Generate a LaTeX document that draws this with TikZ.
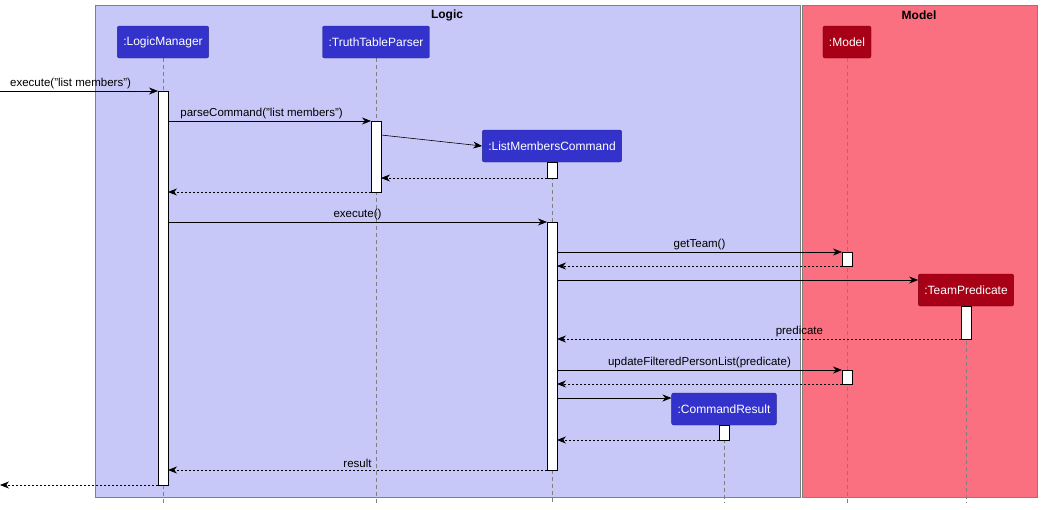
\documentclass[tikz,border=0pt]{standalone}
\usepackage{fontspec}
\setmainfont{Liberation Sans}
\usetikzlibrary{arrows.meta}
\definecolor{logicbg}{HTML}{C8C8F8}
\definecolor{modelbg}{HTML}{FA7080}
\definecolor{logicfg}{HTML}{3333CC}
\definecolor{modelfg}{HTML}{A80016}
\begin{document}
\begin{tikzpicture}[x=1pt,y=-1pt,
    font=\fontsize{12}{14}\selectfont,
    part/.style={draw=#1!70!black, fill=#1, text=white, minimum height=32pt, inner xsep=6pt, rounded corners=2pt},
    life/.style={draw=gray, dashed, dash pattern=on 4pt off 3pt},
    act/.style={draw=black, fill=white},
    msg/.style={-{Stealth[length=9pt,width=7pt]}, line width=0.6pt},
    ret/.style={msg, dash pattern=on 2pt off 2pt},
    lbl/.style={above, inner sep=2pt, font=\fontsize{11.5}{13}\selectfont}]
  \useasboundingbox (0,0) rectangle (1042,509);
  % boxes
  \draw[gray, fill=logicbg] (95,5) rectangle (800,497);
  \draw[gray, fill=modelbg] (802,5) rectangle (1037,497);
  \node[font=\bfseries\fontsize{12}{14}\selectfont] (logicT) at (447,15) {Logic};
  \node[font=\bfseries\fontsize{12}{14}\selectfont] (modelT) at (919,15) {Model};
  % lifelines
  \draw[life] (163,58) -- (163,503);
  \draw[life] (376,58) -- (376,503);
  \draw[life] (552,162) -- (552,503);
  \draw[life] (847,58) -- (847,503);
  \draw[life] (966,306) -- (966,503);
  \draw[life] (724,425) -- (724,503);
  % participants
  \node[part=logicfg] (lm) at (163,42) {:LogicManager};
  \node[part=logicfg] (ttp) at (376,42) {:TruthTableParser};
  \node[part=modelfg] (mdl) at (847,42) {:Model};
  \node[part=logicfg] (lmc) at (552,146) {:ListMembersCommand};
  \node[part=modelfg] (tp) at (966,290) {:TeamPredicate};
  \node[part=logicfg] (cr) at (724,409) {:CommandResult};
  % activations
  \draw[act] (158,91) rectangle (168,485);
  \draw[act] (371,121) rectangle (381,192);
  \draw[act] (547,162) rectangle (557,178);
  \draw[act] (547,222) rectangle (557,470);
  \draw[act] (842,252) rectangle (852,266);
  \draw[act] (842,370) rectangle (852,384);
  \draw[act] (961,306) rectangle (971,339);
  \draw[act] (719,425) rectangle (729,440);
  % messages
  \coordinate (inS) at (0,91);
  \coordinate (inE) at (158,91);
  \coordinate (outS) at (158,485);
  \coordinate (outE) at (0,485);
  \draw[msg] (inS) -- (inE) node[lbl, pos=0.05, anchor=south west] {execute("list members")};
  \draw[msg] (168,121) -- (371,121) node[lbl, pos=0.05, anchor=south west] {parseCommand("list members")};
  \draw[msg] (381,135) -- (lmc.west);
  \draw[ret] (547,178) -- (381,178);
  \draw[ret] (371,192) -- (168,192);
  \draw[msg] (168,222) -- (547,222) node[lbl, midway] {execute()};
  \draw[msg] (557,252) -- (842,252) node[lbl, midway] {getTeam()};
  \draw[ret] (842,266) -- (557,266);
  \draw[msg] (557,280) -- (tp.west |- 0,280);
  \draw[ret] (961,339) -- (557,339) node[lbl, pos=0.4] {predicate};
  \draw[msg] (557,370) -- (842,370) node[lbl, midway] {updateFilteredPersonList(predicate)};
  \draw[ret] (842,384) -- (557,384);
  \draw[msg] (557,398) -- (cr.west |- 0,398);
  \draw[ret] (719,440) -- (557,440);
  \draw[ret] (547,470) -- (168,470) node[lbl, midway] {result};
  \draw[ret] (outS) -- (outE);
\end{tikzpicture}
\end{document}
